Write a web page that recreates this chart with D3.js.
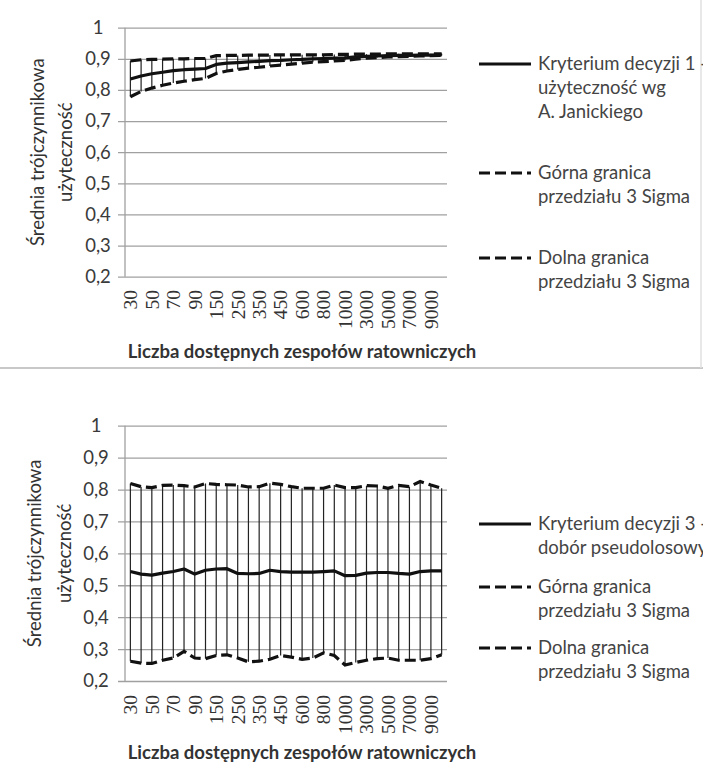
<!DOCTYPE html>
<html>
<head>
<meta charset="utf-8">
<script src="https://cdn.jsdelivr.net/npm/d3@7"></script>
<style>
  body { margin: 0; background: #fff; }
  svg { display: block; }
</style>
</head>
<body>
<script>
// categories on the x axis (number of available rescue teams)
const categories = [30, 40, 50, 60, 70, 80, 90, 100, 150, 200, 250, 300, 350, 400, 450,
  500, 600, 700, 800, 900, 1000, 2000, 3000, 4000, 5000, 6000, 7000, 8000, 9000, 10000];
// only every second category gets a label
const shownTicks = [30, 50, 70, 90, 150, 250, 350, 450, 600, 800, 1000, 3000, 5000, 7000, 9000];
const yTicks = [0.2, 0.3, 0.4, 0.5, 0.6, 0.7, 0.8, 0.9, 1];

// chart 1 - criterion 1 (utility by A. Janicki)
const mean1 = [0.835, 0.845, 0.852, 0.857, 0.862, 0.865, 0.867, 0.869, 0.882, 0.886,
  0.888, 0.890, 0.892, 0.894, 0.895, 0.897, 0.898, 0.900, 0.901, 0.902,
  0.903, 0.906, 0.908, 0.909, 0.910, 0.911, 0.911, 0.912, 0.912, 0.913];
const upper1 = [0.893, 0.897, 0.898, 0.899, 0.900, 0.900, 0.901, 0.901, 0.910, 0.911,
  0.911, 0.912, 0.912, 0.912, 0.913, 0.913, 0.913, 0.913, 0.913, 0.914,
  0.914, 0.915, 0.915, 0.915, 0.916, 0.916, 0.916, 0.916, 0.916, 0.916];
const lower1 = [0.778, 0.795, 0.806, 0.815, 0.822, 0.828, 0.833, 0.837, 0.853, 0.861,
  0.866, 0.870, 0.873, 0.877, 0.880, 0.883, 0.886, 0.889, 0.891, 0.893,
  0.895, 0.899, 0.902, 0.904, 0.906, 0.907, 0.908, 0.909, 0.910, 0.911];

// chart 2 - criterion 3 (pseudo-random choice)
const mean3 = [0.543, 0.535, 0.532, 0.538, 0.543, 0.551, 0.535, 0.547, 0.551, 0.552,
  0.537, 0.536, 0.537, 0.547, 0.543, 0.541, 0.541, 0.541, 0.543, 0.545,
  0.530, 0.531, 0.538, 0.540, 0.540, 0.537, 0.535, 0.543, 0.545, 0.545];
const upper3 = [0.819, 0.809, 0.806, 0.813, 0.814, 0.812, 0.808, 0.819, 0.816, 0.815,
  0.814, 0.808, 0.809, 0.820, 0.816, 0.809, 0.804, 0.804, 0.804, 0.814,
  0.806, 0.806, 0.812, 0.811, 0.804, 0.813, 0.809, 0.825, 0.814, 0.804];
const lower3 = [0.262, 0.256, 0.255, 0.265, 0.272, 0.293, 0.272, 0.270, 0.280, 0.282,
  0.272, 0.260, 0.262, 0.268, 0.280, 0.275, 0.268, 0.272, 0.288, 0.280,
  0.250, 0.258, 0.265, 0.270, 0.272, 0.265, 0.265, 0.265, 0.270, 0.282];

const legend1 = [["Kryterium decyzji 1 -", "użyteczność wg", "A. Janickiego"],
  ["Górna granica", "przedziału 3 Sigma"], ["Dolna granica", "przedziału 3 Sigma"]];
const legend3 = [["Kryterium decyzji 3 -", "dobór pseudolosowy"],
  ["Górna granica", "przedziału 3 Sigma"], ["Dolna granica", "przedziału 3 Sigma"]];

const yTitle = ["Średnia trójczynnikowa", "użyteczność"];
const xTitle = "Liczba dostępnych zespołów ratowniczych";

const W = 703, H = 763;
const sans = "Lato, 'Open Sans', sans-serif";
const pl = d3.formatLocale({decimal: ",", thousands: " ", grouping: [3], currency: ["", ""]});
const fmt = d => d === 1 ? "1" : pl.format(".1f")(d);

const svg = d3.select("body").append("svg")
  .attr("width", W).attr("height", H);

// thin frame round the first chart
svg.append("line")
  .attr("x1", 0).attr("x2", W).attr("y1", 368).attr("y2", 368)
  .attr("stroke", "#c8c8c8").attr("stroke-width", 2);
svg.append("line")
  .attr("x1", 701).attr("x2", 701).attr("y1", 0).attr("y2", 368)
  .attr("stroke", "#e0e0e0").attr("stroke-width", 1.5);

function drawChart(cfg) {
  const x = d3.scaleBand().domain(categories).range([cfg.left, cfg.right]);
  const y = d3.scaleLinear().domain([0.2, 1]).range([cfg.bottom, cfg.top]);
  const g = svg.append("g");

  // gridlines + y tick labels
  const yAxis = d3.axisLeft(y).tickValues(yTicks).tickFormat(fmt)
    .tickSize(-(cfg.right - cfg.left)).tickPadding(0);
  const ya = g.append("g").attr("transform", `translate(${cfg.left},0)`).call(yAxis);
  ya.select(".domain").remove();
  ya.selectAll(".tick line").attr("stroke", "#a0a0a0").attr("stroke-width", 1.3)
    .attr("x1", -7);
  ya.selectAll(".tick text")
    .attr("x", cfg.labelX - cfg.left).attr("text-anchor", "middle")
    .attr("font-family", sans).attr("font-size", 18.5).attr("fill", "#3a3a3a");

  // vertical axis line
  g.append("line")
    .attr("x1", cfg.left).attr("x2", cfg.left)
    .attr("y1", cfg.top).attr("y2", cfg.bottom)
    .attr("stroke", "#a0a0a0").attr("stroke-width", 1.3);

  // x tick labels (rotated)
  g.selectAll(".xl").data(shownTicks).join("text")
    .attr("class", "xl")
    .attr("transform", d => `translate(${x(d) + x.bandwidth() / 2},${cfg.xLabelTop}) rotate(-90)`)
    .attr("text-anchor", "end").attr("dy", "0.35em")
    .attr("font-family", "'Liberation Serif', serif").attr("font-size", 19.5)
    .attr("fill", "#333")
    .text(d => d);

  const cx = i => x(categories[i]) + x.bandwidth() / 2;

  // high-low lines
  g.selectAll(".hl").data(categories).join("line")
    .attr("class", "hl")
    .attr("x1", (d, i) => cx(i)).attr("x2", (d, i) => cx(i))
    .attr("y1", (d, i) => y(cfg.upper[i])).attr("y2", (d, i) => y(cfg.lower[i]))
    .attr("stroke", "#222").attr("stroke-width", 1.2);

  const line = d3.line().x((d, i) => cx(i)).y(d => y(d));
  [cfg.upper, cfg.lower].forEach(s => {
    g.append("path").datum(s).attr("d", line)
      .attr("fill", "none").attr("stroke", "#111").attr("stroke-width", 3.2)
      .attr("stroke-dasharray", "11,5");
  });
  g.append("path").datum(cfg.mean).attr("d", line)
    .attr("fill", "none").attr("stroke", "#111").attr("stroke-width", 3.2)
    .attr("stroke-linejoin", "round");

  // legend
  cfg.legend.forEach((lines, k) => {
    const ly = cfg.legendY[k];
    g.append("line")
      .attr("x1", 479).attr("x2", 531).attr("y1", ly).attr("y2", ly)
      .attr("stroke", "#111").attr("stroke-width", 3.2)
      .attr("stroke-dasharray", k === 0 ? null : "11,5");
    lines.forEach((t, j) => {
      g.append("text")
        .attr("x", 538).attr("y", ly + j * 24).attr("dy", "0.35em")
        .attr("font-family", sans).attr("font-size", 18.5).attr("fill", "#444")
        .text(t);
    });
  });

  // axis titles
  const mid = (cfg.top + cfg.bottom) / 2;
  yTitle.forEach((t, j) => {
    g.append("text")
      .attr("transform", `translate(${cfg.yTitleX[j]},${mid}) rotate(-90)`)
      .attr("text-anchor", "middle").attr("dy", "0.35em")
      .attr("font-family", sans).attr("font-size", 18.5).attr("fill", "#333")
      .text(t);
  });
  g.append("text")
    .attr("x", 302).attr("y", cfg.xTitleY).attr("dy", "0.35em")
    .attr("text-anchor", "middle")
    .attr("font-family", sans).attr("font-size", 18.5).attr("font-weight", "bold")
    .attr("fill", "#333")
    .text(xTitle);
}

drawChart({
  left: 125, right: 447, top: 27.7, bottom: 276.7, labelX: 98,
  xLabelTop: 290, mean: mean1, upper: upper1, lower: lower1,
  legend: legend1, legendY: [64, 173, 258], yTitleX: [38, 66], xTitleY: 352
});
drawChart({
  left: 125, right: 447, top: 425.7, bottom: 681, labelX: 96,
  xLabelTop: 695, mean: mean3, upper: upper3, lower: lower3,
  legend: legend3, legendY: [524, 587, 648], yTitleX: [35, 65], xTitleY: 753
});
</script>
</body>
</html>
